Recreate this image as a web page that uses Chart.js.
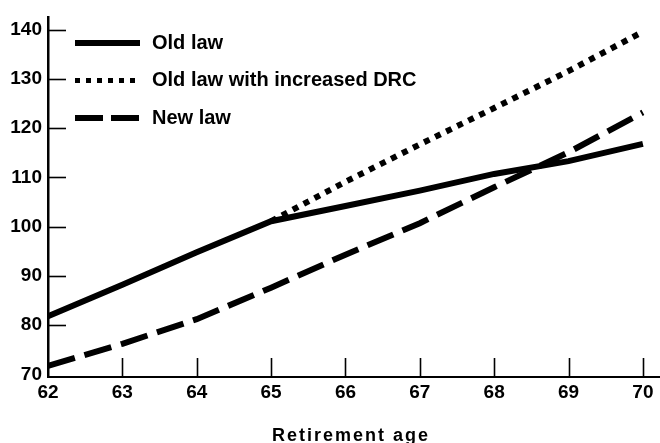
<!DOCTYPE html>
<html>
<head>
<meta charset="utf-8">
<script src="https://cdn.jsdelivr.net/npm/chart.js@4.4.1/dist/chart.umd.min.js"></script>
<style>
  html, body { margin: 0; padding: 0; background: #fff; }
  #wrap { width: 660px; height: 443px; position: relative; }
</style>
</head>
<body>
<div id="wrap"><canvas id="c"></canvas></div>
<script>
const ages = [62, 63, 64, 65, 66, 67, 68, 69, 70];
const oldLaw = [81.8, 88.2, 94.8, 101.1, 104.2, 107.3, 110.7, 113.3, 116.8];
const oldLawDRC = [null, null, null, 101.1, 109.1, 116.7, 124.1, 131.6, 139.6];
const newLaw = [71.7, 76.2, 81.2, 87.6, 94.3, 100.7, 108.0, 115.1, 123.2];
const seriesLabels = ['Old law', 'Old law with increased DRC', 'New law'];
const xTicks = [62, 63, 64, 65, 66, 67, 68, 69, 70];
const yTicks = [70, 80, 90, 100, 110, 120, 130, 140];
const xTitle = 'Retirement age';

const FONT = '"Liberation Sans", Arial, Helvetica, sans-serif';

function pts(vals) {
  return ages.map((a, i) => ({ x: a, y: vals[i] }));
}

const inwardTicks = {
  id: 'inwardTicks',
  afterDraw(chart) {
    const ctx = chart.ctx;
    const xs = chart.scales.x, ys = chart.scales.y;
    const a = chart.chartArea;
    ctx.save();
    ctx.strokeStyle = '#000';
    ctx.lineWidth = 1.6;
    yTicks.forEach((v, i) => {
      if (i === 0) return;
      const y = Math.round(ys.getPixelForValue(v)) + 0.5;
      ctx.beginPath(); ctx.moveTo(a.left, y); ctx.lineTo(a.left + 18, y); ctx.stroke();
    });
    xTicks.forEach((v, i) => {
      if (i === 0) return;
      const x = Math.round(xs.getPixelForValue(v)) + 0.5;
      ctx.beginPath(); ctx.moveTo(x, a.bottom); ctx.lineTo(x, a.bottom - 19); ctx.stroke();
    });
    // axis title
    ctx.fillStyle = '#000';
    ctx.font = 'bold 18px ' + FONT;
    ctx.textAlign = 'center';
    ctx.textBaseline = 'middle';
    try { ctx.letterSpacing = '2px'; } catch (e) {}
    ctx.fillText(xTitle, 351, 436);
    try { ctx.letterSpacing = '0px'; } catch (e) {}
    ctx.restore();
  }
};

const innerLegend = {
  id: 'innerLegend',
  afterDraw(chart) {
    const ctx = chart.ctx;
    ctx.save();
    chart.data.datasets.forEach((ds, i) => {
      const y = 43 + i * 37.5;
      ctx.strokeStyle = '#000';
      ctx.lineWidth = ds.legendWidth;
      ctx.lineCap = 'butt';
      ctx.setLineDash(ds.legendDash);
      ctx.beginPath(); ctx.moveTo(75, y); ctx.lineTo(140, y); ctx.stroke();
      ctx.setLineDash([]);
      ctx.fillStyle = '#000';
      ctx.font = 'bold 20px ' + FONT;
      ctx.textAlign = 'left';
      ctx.textBaseline = 'middle';
      ctx.fillText(ds.label, 152, y);
    });
    ctx.restore();
  }
};

new Chart(document.getElementById('c'), {
  type: 'line',
  data: {
    datasets: [
      { label: seriesLabels[0], data: pts(oldLaw), borderColor: '#000', borderWidth: 6,
        borderDash: [], legendDash: [], legendWidth: 6 },
      { label: seriesLabels[1], data: pts(oldLawDRC), borderColor: '#000', borderWidth: 6,
        borderDash: [6, 6.3], legendDash: [5, 6], legendWidth: 5 },
      { label: seriesLabels[2], data: pts(newLaw), borderColor: '#000', borderWidth: 6,
        borderDash: [28, 10], legendDash: [28, 8], legendWidth: 6 }
    ]
  },
  options: {
    responsive: true,
    maintainAspectRatio: false,
    animation: false,
    layout: { padding: { top: 10, right: 0, left: 0, bottom: 0 } },
    elements: {
      point: { radius: 0, hoverRadius: 0 },
      line: { tension: 0, borderCapStyle: 'butt', borderJoinStyle: 'miter', fill: false }
    },
    plugins: { legend: { display: false }, tooltip: { enabled: false } },
    scales: {
      x: {
        type: 'linear',
        min: 62, max: 70.23,
        afterBuildTicks(s) { s.ticks = xTicks.map(v => ({ value: v })); },
        afterFit(s) { s.height = 66; },
        grid: { display: true, drawOnChartArea: false, drawTicks: false },
        border: { display: true, color: '#000', width: 2 },
        ticks: {
          color: '#000', padding: 4, maxRotation: 0, autoSkip: false,
          font: { family: FONT, size: 19, weight: 'bold' },
          callback: v => String(v)
        }
      },
      y: {
        type: 'linear',
        min: 69.45, max: 142.5,
        afterBuildTicks(s) { s.ticks = yTicks.map(v => ({ value: v })); },
        afterFit(s) { s.width = 48; },
        grid: { display: true, drawOnChartArea: false, drawTicks: false },
        border: { display: true, color: '#000', width: 2.5 },
        ticks: {
          color: '#000', padding: 6, autoSkip: false,
          font: { family: FONT, size: 19, weight: 'bold' },
          callback: v => String(v)
        }
      }
    }
  },
  plugins: [inwardTicks, innerLegend]
});
</script>
</body>
</html>
